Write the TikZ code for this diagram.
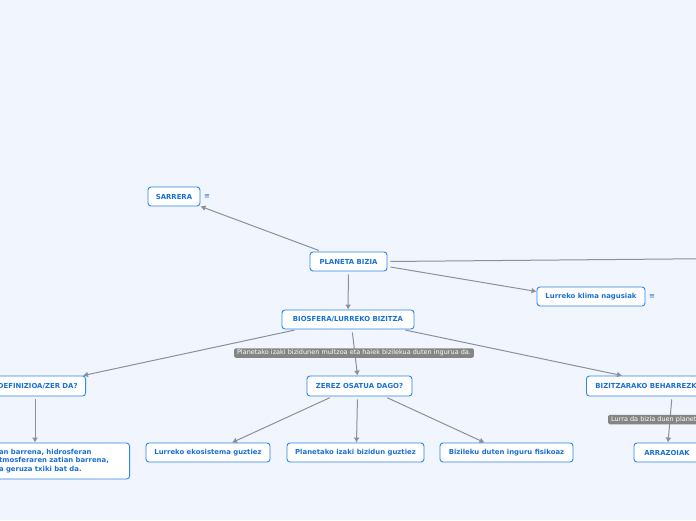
\documentclass[tikz,border=0pt]{standalone}
\usepackage{fontspec}
\setmainfont{DejaVu Sans}
\usetikzlibrary{arrows.meta}
\definecolor{bg}{HTML}{F1F5FD}
\definecolor{bord}{HTML}{2D86EA}
\definecolor{txt}{HTML}{1C6FD6}
\definecolor{edgec}{HTML}{8C9098}
\definecolor{lab}{HTML}{858585}
\tikzset{
 box/.style={draw=bord, fill=white, rounded corners=3pt, line width=0.9pt, text=txt,
   font=\fontsize{6.9}{8}\selectfont\bfseries, minimum height=19pt, inner xsep=0pt, inner ysep=0pt},
 conn/.style={draw=edgec, line width=1pt, -{Latex[length=5pt,width=6pt]}, shorten <=3pt},
 glabel/.style={fill=lab, text=white, rounded corners=1.5pt, font=\fontsize{6.5}{7}\selectfont,
   inner xsep=3pt, inner ysep=1.6pt},
 menu/.style={text=txt, font=\fontsize{7}{8}\selectfont, inner sep=0pt}
}
\begin{document}
\begin{tikzpicture}[x=1pt,y=-1pt]
\fill[bg] (0,0) rectangle (696,520);
\useasboundingbox (0,0) rectangle (696,520);
\clip (0,0) rectangle (696,520);

\node[box, minimum width=52pt] (sarrera) at (174,196.5) {SARRERA};
\node[menu] (m1) at (207,196.5) {≡};
\node[box, minimum width=77pt] (planeta) at (348.5,261.5) {PLANETA BIZIA};
\node[box, minimum width=108pt] (klima) at (591,296.5) {Lurreko klima nagusiak};
\node[menu] (m2) at (652,297) {≡};
\node[box, minimum width=132pt] (biosfera) at (348,319.5) {BIOSFERA/LURREKO BIZITZA};
\node[box, minimum height=20pt, anchor=east, inner xsep=8pt] (definizioa) at (86,386) {DEFINIZIOA/ZER DA?};
\node[box, minimum width=105pt, minimum height=20pt] (zerez) at (359.5,386) {ZEREZ OSATUA DAGO?};
\node[box, minimum height=20pt, anchor=west, inner xsep=9pt] (bizitzarako) at (586,386) {BIZITZARAKO BEHARREZKOAK};
\node[box, anchor=east, minimum height=36pt, text width=124.5pt, inner xsep=6pt, align=left,
  font=\fontsize{6.9}{8.6}\selectfont\bfseries] (deftext) at (130,461)
  {an barrena, hidrosferan\\tmosferaren zatian barrena,\\a geruza txiki bat da.};
\node[box, minimum width=124pt] (ekosistema) at (208,452.5) {Lurreko ekosistema guztiez};
\node[box, minimum width=137pt] (planetako) at (355.5,452.5) {Planetako izaki bizidun guztiez};
\node[box, minimum width=133pt] (bizileku) at (506.5,452.5) {Bizileku duten inguru fisikoaz};
\node[box, minimum width=66pt] (arrazoiak) at (667,452.5) {ARRAZOIAK};
\coordinate (offright) at (900,257);

\draw[conn] (planeta) -- (sarrera);
\draw[conn] (planeta) -- (biosfera);
\draw[conn] ([yshift=-5pt]planeta.east) -- ([yshift=5pt]klima.west);
\draw[conn,-] ([yshift=0pt]planeta.east) -- (offright);
\draw[conn] ([xshift=16pt]biosfera.south west) -- ([xshift=-3pt]definizioa.north east);
\draw[conn] ([xshift=4pt]biosfera.south) -- ([xshift=-2pt]zerez.north);
\draw[conn] ([xshift=-12pt]biosfera.south east) -- ([xshift=36pt]bizitzarako.north west);
\draw[conn] ([xshift=-51pt]definizioa.south east) -- ([xshift=-51pt]definizioa.south east |- deftext.north);
\draw[conn] ([xshift=-27pt]zerez.south) -- ([xshift=24pt]ekosistema.north);
\draw[conn] ([xshift=-2pt]zerez.south) -- ([xshift=1pt]planetako.north);
\draw[conn] ([xshift=25pt]zerez.south) -- ([xshift=-22pt]bizileku.north);
\draw[conn] ([xshift=86pt]bizitzarako.south west) -- ([xshift=1pt]arrazoiak.north);

\node[glabel] (lab1) at (354,353) {Planetako izaki bizidunen multzoa eta haiek bizilekua duten ingurua da.};
\node[glabel, anchor=west] (lab2) at (608,419.5) {Lurra da bizia duen planeta};
\end{tikzpicture}
\end{document}
